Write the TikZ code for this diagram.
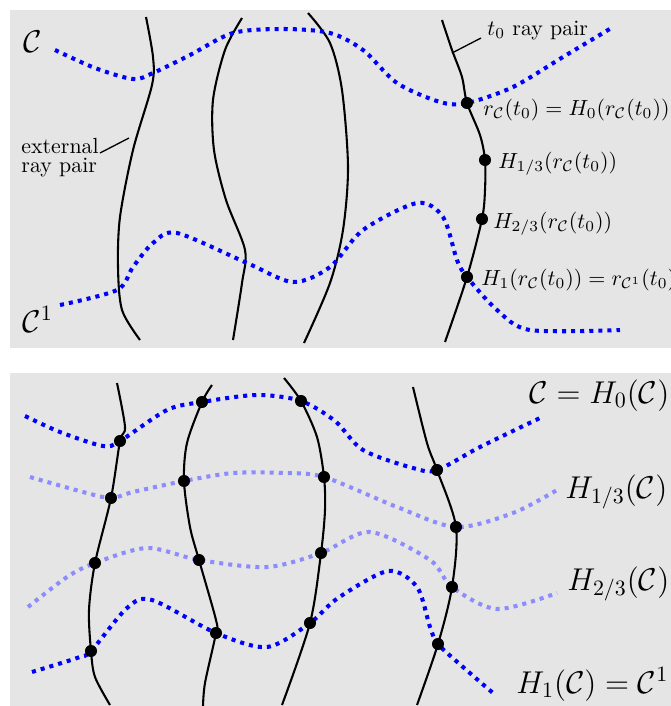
\documentclass[tikz,border=0pt]{standalone}
\usepackage{amsmath}
\tikzset{
    ray/.style={line width=0.95pt, black},
    curveC/.style={blue, line width=1.85pt, dash pattern=on 1.85pt off 2.3pt},
    curveH/.style={blue!45, line width=1.85pt, dash pattern=on 1.85pt off 2.3pt},
    dot/.style={circle, fill=black, inner sep=0pt, minimum size=5.5pt},
    panel/.style={fill=black!10, draw=none}
}
\begin{document}
\begin{tikzpicture}[x=0.457pt, y=-0.457pt]
    \useasboundingbox (0,0) rectangle (671,706);
    % top panel
    \fill[panel] (10,10) rectangle (671,348);
    \draw[ray] plot[smooth] coordinates {(146,17) (153,57) (152,85) (133,150) (120,217) (118,267) (122,310) (140,340)};
    \draw[ray] plot[smooth] coordinates {(242,18) (225,50) (213,100) (214,150) (226,200) (245,250) (242,283) (233,340)};
    \draw[ray] plot[smooth] coordinates {(308,13) (330,43) (342,90) (348,167) (343,230) (330,283) (304,343)};
    \draw[ray] plot[smooth] coordinates {(442,20) (452,50) (462,77) (467,103) (480,135) (485,160) (485,190) (482,219) (467,277) (445,342)};
    \draw[curveC] plot[smooth] coordinates {(55,50) (95,68) (133,79) (153,73) (190,55) (233,33) (283,29) (330,33) (363,50) (397,83) (440,102) (467,103) (513,87) (563,57) (613,27)};
    \draw[curveC] plot[smooth] coordinates {(60,305) (117,290) (133,267) (153,243) (177,233) (247,263) (293,282) (330,267) (363,230) (417,203) (443,217) (457,260) (467,277) (497,310) (530,330) (620,330)};
    \node[dot] (p0) at (467,103) {};
    \node[dot] (p1) at (485,160) {};
    \node[dot] (p2) at (482,219) {};
    \node[dot] (p3) at (467,277) {};
    \node[anchor=base west, inner sep=0pt] (lp0) at (483,115) {$r_{\mathcal{C}}(t_0)=H_0(r_{\mathcal{C}}(t_0))$};
    \node[anchor=base west, inner sep=0pt] (lp1) at (498,168) {$H_{1/3}(r_{\mathcal{C}}(t_0))$};
    \node[anchor=base west, inner sep=0pt] (lp2) at (493,228) {$H_{2/3}(r_{\mathcal{C}}(t_0))$};
    \node[anchor=base west, inner sep=0pt] (lp3) at (481,285) {$H_1(r_{\mathcal{C}}(t_0))=r_{\mathcal{C}^1}(t_0)$};
    \node[anchor=base west, inner sep=0pt] (lt0) at (487,35) {$t_0$ ray pair};
    \coordinate (t0a) at (452,53);
    \coordinate (t0b) at (481,38);
    \draw[line width=0.6pt] (t0a) -- (t0b);
    \node[anchor=base west, inner sep=0pt, align=left] (lext) at (21,172) {external\\[-3.4pt]ray pair};
    \coordinate (exta) at (100,153);
    \coordinate (extb) at (129,138);
    \draw[line width=0.6pt] (exta) -- (extb);
    \node[anchor=base west, inner sep=0pt, font=\Large] (lC) at (23,52) {$\mathcal{C}$};
    \node[anchor=base west, inner sep=0pt, font=\Large] (lC1) at (22,332) {$\mathcal{C}^1$};

    % bottom panel
    \fill[panel] (10,373) rectangle (671,706);
    \draw[ray] plot[smooth] coordinates {(117,383) (125,427) (120,441) (111,498) (95,563) (89,610) (91,651) (95,677) (110,705)};
    \draw[ray] plot[smooth] coordinates {(212,385) (202,402) (187,443) (184,481) (190,527) (199,560) (216,620) (216,633) (205,683) (203,707)};
    \draw[ray] plot[smooth] coordinates {(284,378) (301,401) (317,437) (324,477) (325,510) (321,553) (310,623) (282,705)};
    \draw[ray] plot[smooth] coordinates {(413,387) (427,443) (437,470) (456,527) (452,587) (438,644) (417,705)};
    \draw[curveH] plot[smooth] coordinates {(30,477) (83,492) (111,498) (133,492) (184,481) (233,473) (283,473) (324,477) (397,507) (456,527) (513,513) (557,490)};
    \draw[curveH] plot[smooth] coordinates {(28,607) (67,577) (95,563) (147,548) (199,560) (267,567) (321,553) (370,532) (430,560) (452,587) (497,609) (557,593)};
    \draw[curveC] plot[smooth] coordinates {(25,416) (60,432) (103,446) (120,441) (167,410) (202,402) (257,395) (301,401) (335,421) (363,450) (413,468) (437,470) (480,447) (540,418)};
    \draw[curveC] plot[smooth] coordinates {(32,672) (77,658) (91,651) (127,608) (152,600) (216,633) (267,647) (310,623) (338,598) (388,571) (417,587) (430,627) (438,644) (463,667) (493,693)};
    \foreach \px/\py [count=\i] in {120/441, 202/402, 301/401, 437/470,
        111/498, 184/481, 324/477, 456/527,
        95/563, 199/560, 321/553, 452/587,
        91/651, 216/633, 310/623, 438/644}
        \node[dot] (q\i) at (\px,\py) {};
    \node[anchor=base west, inner sep=0pt, font=\Large] (lH0) at (529,403) {$\mathcal{C}=H_0(\mathcal{C})$};
    \node[anchor=base west, inner sep=0pt, font=\Large] (lH1) at (565,498) {$H_{1/3}(\mathcal{C})$};
    \node[anchor=base west, inner sep=0pt, font=\Large] (lH2) at (567,590) {$H_{2/3}(\mathcal{C})$};
    \node[anchor=base west, inner sep=0pt, font=\Large] (lH3) at (516,693) {$H_1(\mathcal{C})=\mathcal{C}^1$};
\end{tikzpicture}
\end{document}
